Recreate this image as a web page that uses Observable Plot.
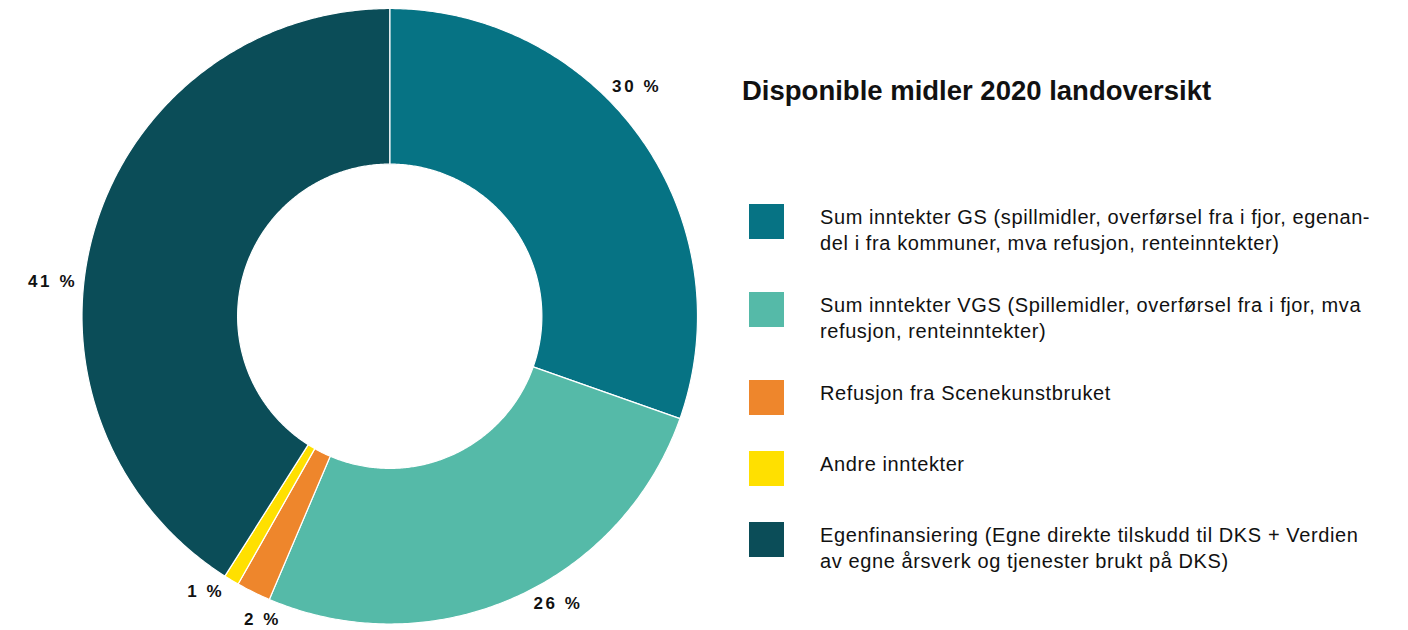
<!DOCTYPE html>
<html>
<head>
<meta charset="utf-8">
<script src="https://cdn.jsdelivr.net/npm/d3@7"></script>
<script src="https://cdn.jsdelivr.net/npm/@observablehq/plot@0.6"></script>
<style>
  body { margin: 0; background: #fff; font-family: "Liberation Sans", Arial, sans-serif; color: #111; }
  #wrap { position: relative; width: 1408px; height: 630px; overflow: hidden; }
  #chart { position: absolute; left: 0; top: 0; }
  #chart text { letter-spacing: 2.6px; }
  #title { position: absolute; left: 742px; top: 75px; margin: 0; font-size: 27.5px; line-height: 32px; font-weight: 700; white-space: nowrap; }
  #legend { position: absolute; left: 749px; top: 204px; }
  .item { display: flex; align-items: flex-start; margin-bottom: 36px; }
  .sw { width: 35px; height: 35px; flex: none; }
  .lbl { margin-left: 36px; font-size: 20px; letter-spacing: 0.6px; line-height: 26px; white-space: pre; padding-top: 0px; }
</style>
</head>
<body>
<div id="wrap">
  <div id="chart"></div>
  <h1 id="title"></h1>
  <div id="legend"></div>
</div>
<script>
const title = "Disponible midler 2020 landoversikt";
const categories = ["GS", "VGS", "Refusjon", "Andre", "Egenfinansiering"];
const legendLabels = [
  "Sum inntekter GS (spillmidler, overførsel fra i fjor, egenan-\ndel i fra kommuner, mva refusjon, renteinntekter)",
  "Sum inntekter VGS (Spillemidler, overførsel fra i fjor, mva\nrefusjon, renteinntekter)",
  "Refusjon fra Scenekunstbruket",
  "Andre inntekter",
  "Egenfinansiering (Egne direkte tilskudd til DKS + Verdien\nav egne årsverk og tjenester brukt på DKS)"
];
const values = [30.4, 26.0, 1.8, 0.8, 41.0];
const colors = ["#067384", "#55BAA8", "#EE862C", "#FFE000", "#0B4D58"];

// geometry helpers (layout)
const outerPx = 307.5;
const innerRatio = 152 / outerPx;
const labelGapPx = 314;

const total = d3.sum(values);
let acc = 0;
const slices = categories.map((key, i) => {
  const a0 = acc / total * 2 * Math.PI;
  acc += values[i];
  const a1 = acc / total * 2 * Math.PI;
  return { key, value: values[i], pct: values[i] / total * 100, a0, a1 };
});

// polygon outline points for each donut slice
const pts = [];
slices.forEach(s => {
  const n = Math.max(4, Math.ceil((s.a1 - s.a0) / (Math.PI / 360)));
  const ring = [];
  for (let k = 0; k <= n; k++) { const a = s.a0 + (s.a1 - s.a0) * k / n; ring.push([Math.sin(a), Math.cos(a)]); }
  for (let k = n; k >= 0; k--) { const a = s.a0 + (s.a1 - s.a0) * k / n; ring.push([innerRatio * Math.sin(a), innerRatio * Math.cos(a)]); }
  ring.push(ring[0]);
  ring.forEach(([x, y]) => pts.push({ key: s.key, x, y }));
});

// label angles, with simple collision spreading
const labels = slices.map(s => ({ ...s, text: `${Math.round(s.pct)} %`, la: s.a0 + 0.43 * (s.a1 - s.a0) }));
const minSep = 11 * Math.PI / 180;
for (let it = 0; it < 10; it++) {
  for (let i = 0; i < labels.length - 1; i++) {
    const d = labels[i + 1].la - labels[i].la;
    if (d < minSep) {
      const mid = (labels[i + 1].la + labels[i].la) / 2;
      labels[i].la = mid - minSep / 2;
      labels[i + 1].la = mid + minSep / 2;
    }
  }
}
// radius so the label box sits just outside the ring
labels.forEach(l => {
  const w = l.text.length * 12, h = 16;
  const rPx = labelGapPx + (w / 2) * Math.abs(Math.sin(l.la)) + (h / 2) * Math.abs(Math.cos(l.la));
  l.r = rPx / outerPx;
});

const chart = Plot.plot({
  width: 720,
  height: 630,
  marginLeft: 81.5,
  marginRight: 23,
  marginTop: 8,
  marginBottom: 6.5,
  x: { domain: [-1, 1], axis: null },
  y: { domain: [-1, 1], axis: null },
  color: { domain: categories, range: colors },
  style: { fontFamily: "'Liberation Sans', Arial, sans-serif", overflow: "visible" },
  marks: [
    Plot.line(pts, { x: "x", y: "y", z: "key", fill: "key", stroke: "white", strokeWidth: 1.2, curve: "linear" }),
    Plot.text(labels, {
      x: d => d.r * Math.sin(d.la),
      y: d => d.r * Math.cos(d.la),
      text: "text",
      fontSize: 17,
      fontWeight: 700,
      fill: "#111"
    })
  ]
});
document.getElementById("chart").appendChild(chart);

document.getElementById("title").textContent = title;
const color = chart.scale("color");
const legend = document.getElementById("legend");
categories.forEach((c, i) => {
  const item = document.createElement("div");
  item.className = "item";
  const sw = document.createElement("div");
  sw.className = "sw";
  sw.style.background = color.apply(c);
  const lbl = document.createElement("div");
  lbl.className = "lbl";
  lbl.textContent = legendLabels[i];
  item.appendChild(sw);
  item.appendChild(lbl);
  legend.appendChild(item);
});
</script>
</body>
</html>
